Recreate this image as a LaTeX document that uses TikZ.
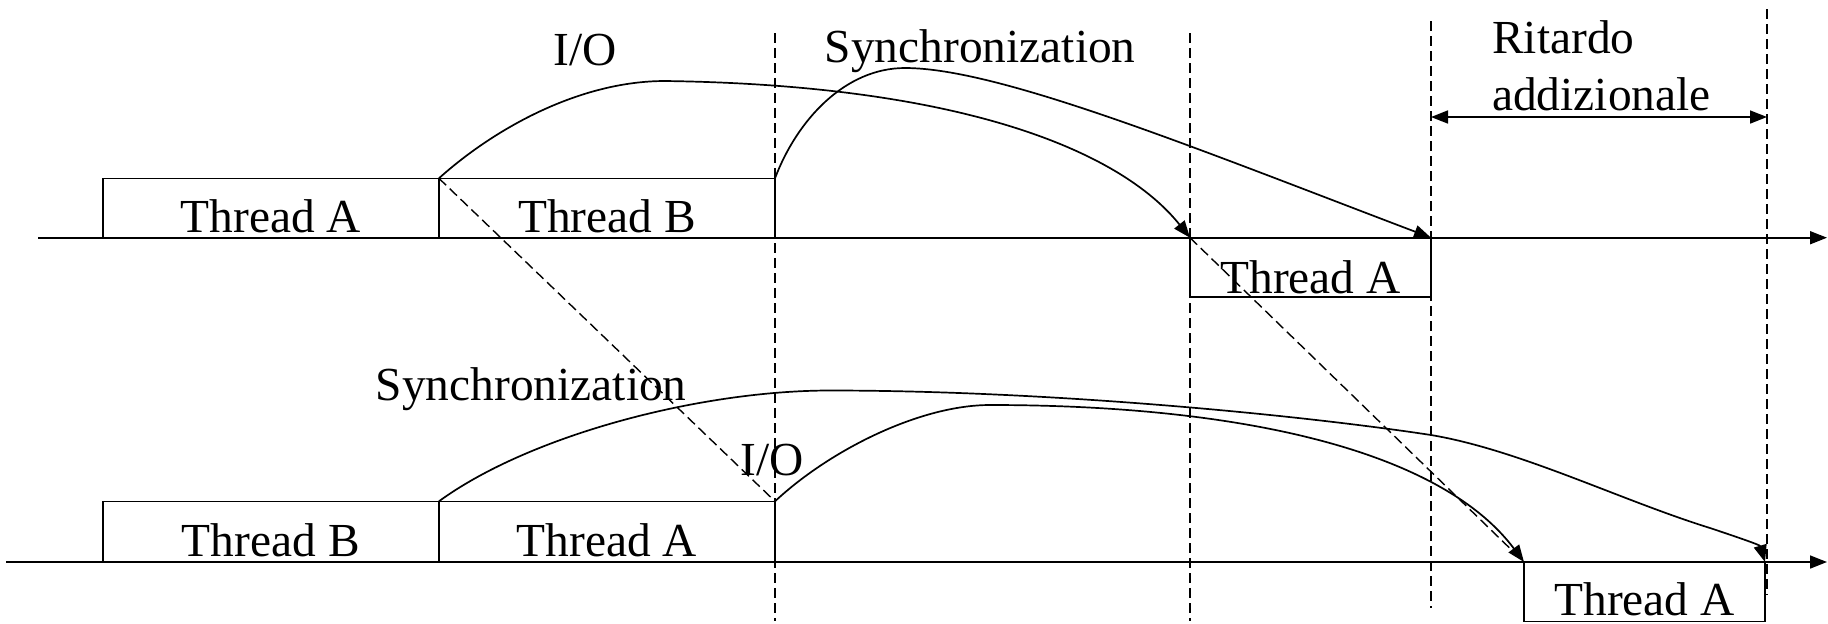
\documentclass[tikz,border=0pt]{standalone}
\usepackage{fontspec}
\setmainfont{Liberation Serif}
\usetikzlibrary{arrows.meta}
\begin{document}
\begin{tikzpicture}[x=0.5pt,y=-0.5pt,
  line/.style={line width=0.8pt},
  box/.style={draw,line width=0.8pt,inner sep=0pt,outer sep=0pt,anchor=north west},
  lbl/.style={inner sep=0pt,font=\fontsize{23.7}{28}\selectfont},
  guide/.style={line width=0.7pt,dash pattern=on 5pt off 2.5pt},
  conn/.style={line width=0.85pt,-{Triangle[length=8.5pt,width=6.5pt]}},
  dbl/.style={line width=0.85pt,{Triangle[length=8.5pt,width=6.5pt]}-{Triangle[length=8.5pt,width=6.5pt]}},
]
\useasboundingbox (0,0) rectangle (1828,623);

% boxes
\node[box,minimum width=168.1pt,minimum height=29.7pt] (ta1) at (102.7,178.3) {};
\node[box,minimum width=168.05pt,minimum height=29.7pt] (tb1) at (438.9,178.3) {};
\node[box,minimum width=120.5pt,minimum height=29.5pt] (ta2) at (1190,237.7) {};
\node[box,minimum width=168.1pt,minimum height=30.35pt] (bb1) at (102.7,501.3) {};
\node[box,minimum width=168.05pt,minimum height=30.35pt] (ba1) at (438.9,501.3) {};
\node[box,minimum width=120.5pt,minimum height=29.75pt] (ba2) at (1524,562) {};

% texts
\node[lbl,anchor=base] (tta1) at (270.8,232) {Thread A};
\node[lbl,anchor=base] (ttb1) at (607,232) {Thread B};
\node[lbl,anchor=base] (tta2) at (1310.5,293) {Thread A};
\node[lbl,anchor=base] (tbb1) at (270.8,556.7) {Thread B};
\node[lbl,anchor=base] (tba1) at (607,556.7) {Thread A};
\node[lbl,anchor=base] (tba2) at (1644.5,615) {Thread A};
\node[lbl,anchor=base] (io1) at (585,65.7) {I/O};
\node[lbl,anchor=base west] (sync1) at (824.5,62) {Synchronization};
\node[lbl,anchor=base west] (sync2) at (375.5,400) {Synchronization};
\node[lbl,anchor=base west] (io2) at (740.5,475) {I/O};
\node[lbl,anchor=base west] (rit) at (1491.8,53) {Ritardo};
\node[lbl,anchor=base west] (add) at (1491.8,110) {addizionale};

% axes
\coordinate (ax1s) at (38,237.7);
\coordinate (ax1e) at (1827,237.7);
\coordinate (ax2s) at (6,562);
\coordinate (ax2e) at (1827,562);
\draw[conn] (ax1s) -- (ax1e);
\draw[conn] (ax2s) -- (ax2e);

% guides
\coordinate (g1t) at (775,33);   \coordinate (g1b) at (775,621);
\coordinate (g2t) at (1190,33);  \coordinate (g2b) at (1190,621);
\coordinate (g3t) at (1431,21);  \coordinate (g3b) at (1431,608);
\coordinate (g4t) at (1767,9);   \coordinate (g4b) at (1767,595);
\draw[guide] (g1t) -- (g1b);
\draw[guide] (g2t) -- (g2b);
\draw[guide] (g3t) -- (g3b);
\draw[guide] (g4t) -- (g4b);

% delay arrow
\coordinate (r1) at (1431,117);
\coordinate (r2) at (1767,117);
\draw[dbl] (r1) -- (r2);

% dashed diagonals
\draw[guide] (tb1.north west) -- (ba1.north east);
\draw[guide] (ta2.north west) -- (ba2.north west);

% curves
\draw[conn] (tb1.north west) .. controls (495,128) and (580,81) .. (665,81)
  .. controls (960,85) and (1120,150) .. (ta2.north west);
\draw[conn] (tb1.north east) .. controls (797,120) and (845,68) .. (905,68)
  .. controls (1000,68) and (1200,150) .. (ta2.north east);
\draw[conn] (ba1.north west) .. controls (530,435) and (700,390.5) .. (830,390.5)
  .. controls (1050,390.5) and (1300,415) .. (1431,435)
  .. controls (1520,450) and (1620,500) .. (1710,528)
  .. controls (1740,538) and (1760,545) .. (ba2.north east);
\draw[conn] (ba1.north east) .. controls (830,450) and (920,405) .. (990,405)
  .. controls (1240,405) and (1440,450) .. (ba2.north west);
\end{tikzpicture}
\end{document}
